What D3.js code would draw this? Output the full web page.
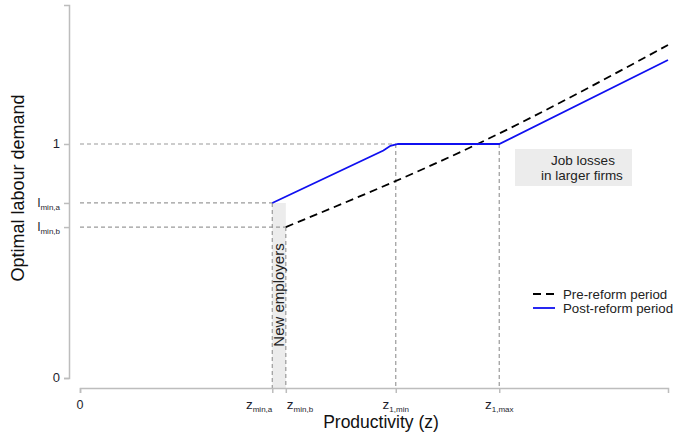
<!DOCTYPE html>
<html>
<head>
<meta charset="utf-8">
<script src="https://cdn.jsdelivr.net/npm/d3@7"></script>
<style>
  body { margin: 0; background: #fff; }
  svg { display: block; font-family: "Liberation Sans", Arial, sans-serif; }
</style>
</head>
<body>
<svg id="chart" width="677" height="443"></svg>
<script>
// ---- data (arbitrary productivity units 0..100, labour demand normalised to 1) ----
const zMinA = 32.7, zMinB = 35.0, z1Min = 53.7, z1Max = 71.3;
const lMinA = 0.748, lMinB = 0.645;
const xTicks = [0, zMinA, zMinB, z1Min, z1Max];
const xTickLabels = [["0", ""], ["z", "min,a"], ["z", "min,b"], ["z", "1,min"], ["z", "1,max"]];
const yTicks = [0, lMinB, lMinA, 1];
const yTickLabels = [["0", ""], ["l", "min,b"], ["l", "min,a"], ["1", ""]];
const preZ = [zMinB, 67.6, 100];
const preL = [lMinB, 1.0, 1.423];
const postZ = [zMinA, 51.6, 52.8, 54.1, z1Max, 100];
const postL = [lMinA, 0.972, 0.992, 1.0, 1.0, 1.359];
const seriesNames = ["Pre-reform period", "Post-reform period"];

const svg = d3.select("#chart");
const x = d3.scaleLinear().domain([0, 100]).range([80, 668]);
const y = d3.scaleLinear().domain([0, 1.594]).range([378, 5]);
const axisY0 = 388;
const grey = "#bdbdbd";

// shaded band between zmin,a and zmin,b
svg.append("rect")
  .attr("x", x(zMinA)).attr("width", x(zMinB) - x(zMinA))
  .attr("y", y(lMinA)).attr("height", axisY0 - y(lMinA))
  .attr("fill", "#ececec");

// Job losses box
svg.append("rect").attr("x", 515).attr("y", 149).attr("width", 117).attr("height", 37).attr("fill", "#ececec");
svg.append("text").attr("x", 583).attr("y", 165).attr("text-anchor", "middle")
  .attr("font-size", 13.5).attr("fill", "#222").text("Job losses");
svg.append("text").attr("x", 582).attr("y", 180).attr("text-anchor", "middle")
  .attr("font-size", 13.5).attr("fill", "#222").text("in larger firms");

// guide lines
const guide = svg.append("g").attr("stroke", "#9a9a9a").attr("stroke-width", 1.2)
  .attr("stroke-dasharray", "4,3").attr("fill", "none");
[[1, z1Min], [lMinA, zMinA], [lMinB, zMinB]].forEach(([l, z]) => {
  guide.append("line").attr("x1", x(0)).attr("x2", x(z)).attr("y1", y(l)).attr("y2", y(l));
});
[[zMinA, lMinA], [zMinB, lMinB], [z1Min, 1], [z1Max, 1]].forEach(([z, l]) => {
  guide.append("line").attr("x1", x(z)).attr("x2", x(z)).attr("y1", y(l)).attr("y2", axisY0);
});

// axes
const yAxis = svg.append("g").attr("transform", "translate(69,0)")
  .call(d3.axisLeft(y).tickValues(yTicks).tickSize(5).tickPadding(4).tickFormat(""));
const xAxis = svg.append("g").attr("transform", `translate(0,${axisY0})`)
  .call(d3.axisBottom(x).tickValues(xTicks).tickSize(5).tickPadding(4).tickFormat(""));
[yAxis, xAxis].forEach(g => {
  g.selectAll("path, line").attr("stroke", grey).attr("stroke-width", 1.5);
});

// y tick labels
yTicks.forEach((v, i) => {
  const [main, sub] = yTickLabels[i];
  const t = svg.append("text").attr("x", 60).attr("y", y(v) + 4).attr("text-anchor", "end")
    .attr("fill", "#1e1e2e");
  t.append("tspan").attr("font-size", 13).text(main);
  if (sub) t.append("tspan").attr("font-size", 8).attr("dy", 3).text(sub);
});

// x tick labels
const anchors = ["middle", "end", "start", "middle", "middle"];
const offs = [0, 0, 1, 0, 0];
xTicks.forEach((v, i) => {
  const [main, sub] = xTickLabels[i];
  const t = svg.append("text").attr("x", x(v) + offs[i]).attr("y", 409)
    .attr("text-anchor", anchors[i]).attr("fill", "#1e1e2e");
  t.append("tspan").attr("font-size", sub ? 13.5 : 12.5).text(main);
  if (sub) t.append("tspan").attr("font-size", 8).attr("dy", 2.5).text(sub);
});

// series lines
const line = d3.line().x(d => x(d[0])).y(d => y(d[1]));
svg.append("path").datum(d3.zip(preZ, preL))
  .attr("d", line.curve(d3.curveNatural))
  .attr("fill", "none").attr("stroke", "#000").attr("stroke-width", 1.8).attr("stroke-dasharray", "8,5");
svg.append("path").datum(d3.zip(postZ, postL))
  .attr("d", line.curve(d3.curveLinear))
  .attr("fill", "none").attr("stroke", "#1010f0").attr("stroke-width", 1.8);

// New employers label
svg.append("text").attr("transform", `translate(${x((zMinA + zMinB) / 2) + 5},295) rotate(-90)`)
  .attr("text-anchor", "middle").attr("font-size", 15).attr("fill", "#222").text("New employers");

// legend
const leg = svg.append("g");
leg.append("line").attr("x1", 533).attr("x2", 555).attr("y1", 294).attr("y2", 294)
  .attr("stroke", "#000").attr("stroke-width", 1.8).attr("stroke-dasharray", "8,5");
leg.append("line").attr("x1", 533).attr("x2", 555).attr("y1", 308).attr("y2", 308)
  .attr("stroke", "#1010f0").attr("stroke-width", 1.8);
seriesNames.forEach((n, i) => {
  leg.append("text").attr("x", 563).attr("y", 298.5 + i * 14.5).attr("font-size", 13.3)
    .attr("fill", "#222").text(n);
});

// axis titles
svg.append("text").attr("x", 381).attr("y", 428).attr("text-anchor", "middle")
  .attr("font-size", 17.5).attr("fill", "#111").text("Productivity (z)");
svg.append("text").attr("transform", "translate(24,188) rotate(-90)").attr("text-anchor", "middle")
  .attr("font-size", 18).attr("fill", "#111").text("Optimal labour demand");
</script>
</body>
</html>
